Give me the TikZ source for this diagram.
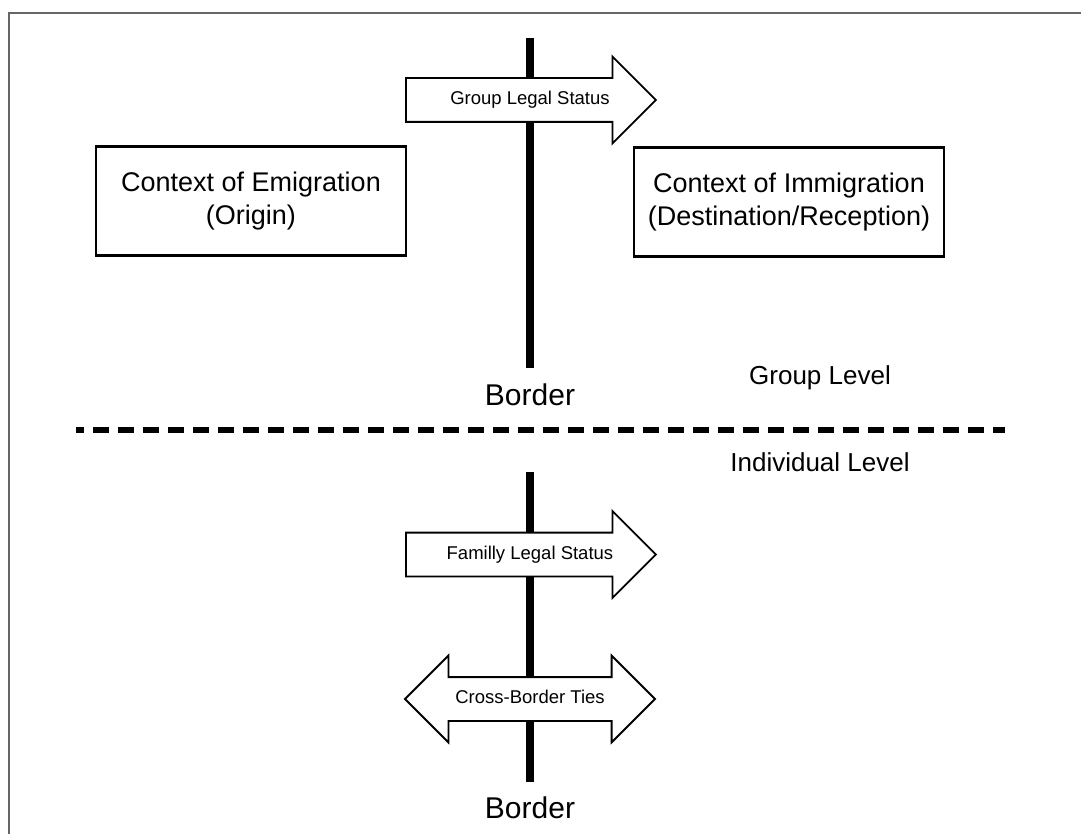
\documentclass[tikz,border=0pt]{standalone}
\usepackage{fontspec}
\setmainfont{Liberation Sans}
\usetikzlibrary{positioning,shapes.arrows}

\begin{document}
\begin{tikzpicture}[
    x=1pt, y=-1pt,
    frame/.style={draw=black!60, line width=2pt},
    context/.style={rectangle, draw, line width=2.5pt, minimum width=310pt, minimum height=109pt, align=center, font=\fontsize{27}{33}\selectfont},
    flow/.style={draw, fill=white, line width=1.8pt, font=\fontsize{18.5}{22}\selectfont, text height=13pt, text depth=4pt, inner xsep=0pt, inner ysep=12.5pt, minimum height=250pt, minimum width=85pt},
    oneway/.style={flow, single arrow, single arrow head extend=21.5pt, single arrow tip angle=90, anchor=tail, execute at begin node={\hspace*{20pt}}},
    twoway/.style={flow, double arrow, double arrow head extend=21.5pt, double arrow tip angle=90},
    borderline/.style={line width=8pt},
    divider/.style={line width=6pt, dash pattern=on 16pt off 9pt, dash phase=8pt},
    level/.style={font=\fontsize{26}{30}\selectfont},
    bordername/.style={inner sep=0pt, font=\fontsize{30}{34}\selectfont},
]
\useasboundingbox (0,0) rectangle (1081,834);

% Frame
\draw[frame] (9,834) -- (9,13) -- (1081,13);

% Group level: border line
\coordinate (gtop) at (530,38);
\coordinate (gbot) at (530,368);
\draw[borderline] (gtop) -- (gbot);
\node[bordername, below=16pt of gbot] (gborder) {Border};

% Contexts
\node[context] (emigration) at (251,201) {Context of Emigration\\(Origin)};
\node[context] (immigration) at (789,202) {Context of Immigration\\(Destination/Reception)};

% Group legal status
\node[oneway] (grouplegal) at (405,100) {Group Legal Status};

% Levels
\node[level] (grouplevel) at (820,378) {Group Level};
\node[level] (indivlevel) at (820,462) {Individual Level};

% Divider
\coordinate (dleft) at (76,430);
\coordinate (dright) at (1005,430);
\draw[divider] (dleft) -- (dright);

% Individual level: border line
\coordinate (itop) at (530,472);
\coordinate (ibot) at (530,782);
\draw[borderline] (itop) -- (ibot);
\node[bordername, below=15pt of ibot] (iborder) {Border};

% Family and ties
\node[oneway] (familylegal) at (405,554.5) {Familly Legal Status};
\node[twoway] (crossties) at (530,699) {Cross-Border Ties};

\end{tikzpicture}
\end{document}
